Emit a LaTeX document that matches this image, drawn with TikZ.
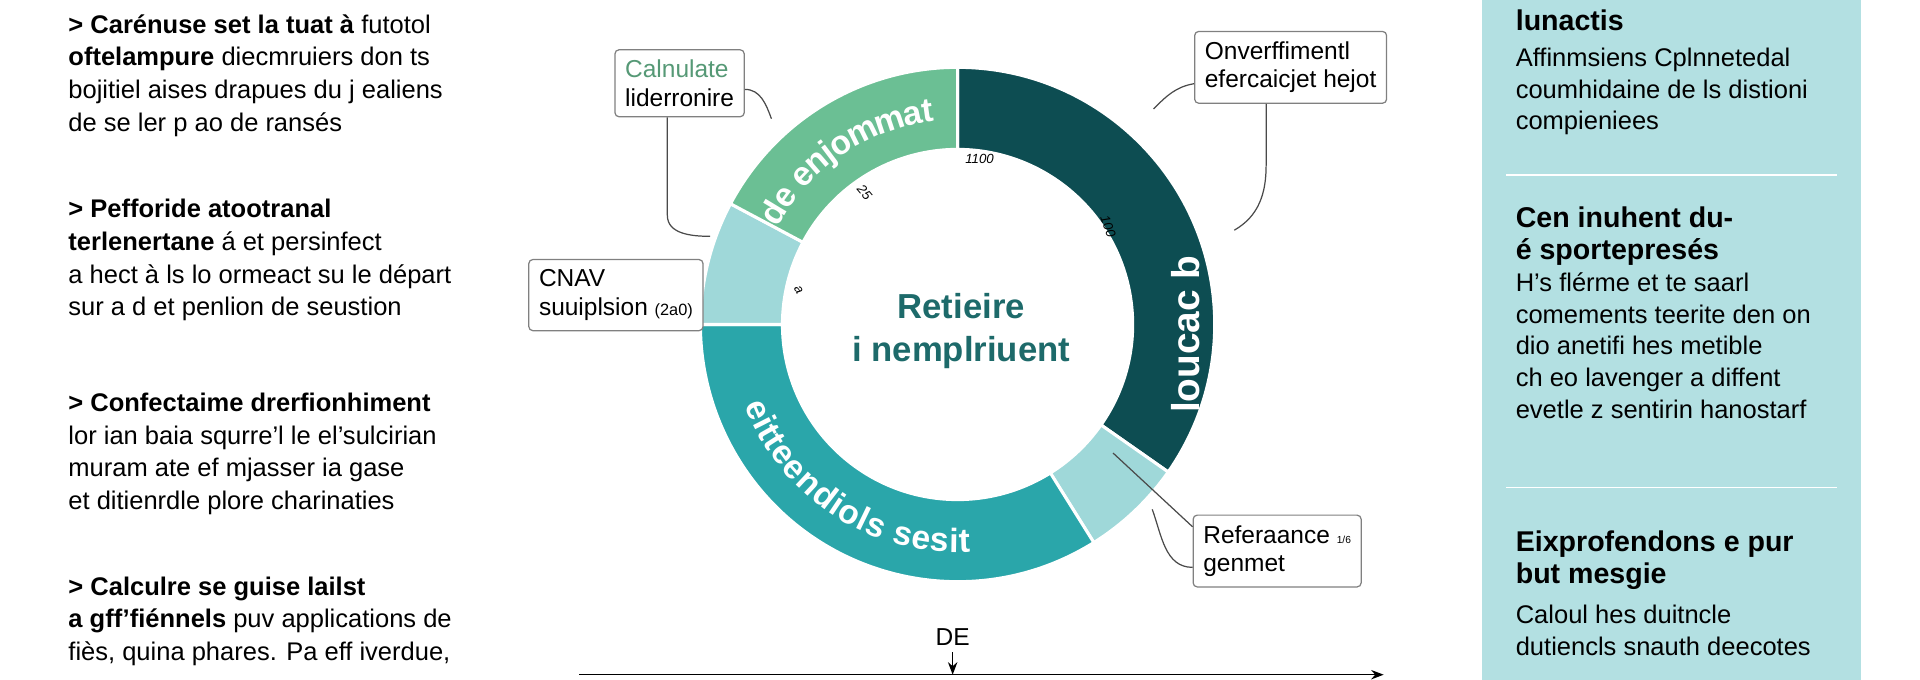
\documentclass[tikz,border=0pt]{standalone}
\usepackage{fontspec}
\setmainfont{Liberation Sans}
\usetikzlibrary{calc,positioning,decorations.text,arrows.meta}
\definecolor{darkseg}{HTML}{0D4D52}
\definecolor{tealseg}{HTML}{2AA6AA}
\definecolor{greenseg}{HTML}{6BBF94}
\definecolor{lightseg}{HTML}{9FD8D9}
\definecolor{panelcolor}{HTML}{B3E0E2}
\definecolor{centercolor}{HTML}{1D6A6A}
\definecolor{leadcolor}{HTML}{4A4A4A}

\begin{document}
\begin{tikzpicture}[%
    x=0.6pt, y=0.6pt,
    >=Stealth,
    ]
\tikzset{
  call/.style={draw=leadcolor!70, line width=0.6pt, rounded corners=2pt, fill=white,
    align=left, inner sep=5pt, font=\fontsize{12}{14}\selectfont},
  lead/.style={draw=leadcolor, line width=0.6pt},
  side/.style={anchor=north west, align=left, font=\fontsize{12.5}{16}\selectfont},
  panel/.style={anchor=north west, align=left, font=\fontsize{12.5}{15.6}\selectfont},
  tick/.style={font=\fontsize{6.5}{7}\selectfont\itshape},
  arctext/.style={decorate, decoration={text along path, text align=center, raise=-6pt,
    text color=white, text={|\bfseries\fontsize{16.5}{17}\selectfont|#1}}},
}
\useasboundingbox (0,0) rectangle (1568,555);
\fill[white] (0,0) rectangle (1568,555);

% right panel
\fill[panelcolor] (1210,0) rectangle (1520,555);
\draw[white, line width=0.8pt] (1230,412) -- (1500,412);
\draw[white, line width=0.8pt] (1230,157) -- (1500,157);

\node[panel] (r1) at (1232,553) {\textbf{\fontsize{14}{18}\selectfont lunactis}\\[2pt]
  Affinmsiens Cplnnetedal\\ coumhidaine de ls distioni\\ compieniees};
\node[panel] (r2) at (1232,392) {\textbf{\fontsize{14}{18}\selectfont Cen inuhent du-}\\
  \textbf{\fontsize{14}{18}\selectfont é sportepresés}\\
  H's flérme et te saarl\\ comements teerite den on\\ dio anetifi hes metible\\
  ch eo lavenger a diffent\\ evetle z sentirin hanostarf};
\node[panel] (r3) at (1232,127) {\textbf{\fontsize{14}{18}\selectfont Eixprofendons e pur}\\
  \textbf{\fontsize{14}{18}\selectfont but mesgie}\\[4pt]
  Caloul hes duitncle\\ dutiencls snauth deecotes};

% left column
\node[side] (l1) at (50,549) {\textbf{> Carénuse set la tuat à} futotol\\
  \textbf{oftelampure} diecmruiers don ts\\ bojitiel aises drapues du j ealiens\\ de se ler p ao de ransés};
\node[side] (l2) at (50,398) {\textbf{> Pefforide atootranal}\\
  \textbf{terlenertane} á et persinfect\\ a hect à ls lo ormeact su le départ\\ sur a d et penlion de seustion};
\node[side] (l3) at (50,240) {\textbf{> Confectaime drerfionhiment}\\
  lor ian baia squrre'l le el'sulcirian\\ muram ate ef mjasser ia gase\\ et ditienrdle plore charinaties};
\node[side] (l4) at (50,90) {\textbf{> Calculre se guise lailst}\\
  \textbf{a gff'fiénnels} puv applications de\\ fiès, quina phares. Pa eff iverdue,};

% ring
\coordinate (c) at (782,290);
\foreach \col/\a/\b in {darkseg/90/-35, lightseg/-35/-58, tealseg/-58/-180,
                        lightseg/180/152, greenseg/152/90}
  \fill[\col, draw=white, line width=1.5pt] ($(c)+(\a:210)$)
    arc[start angle=\a, end angle=\b, radius=210] -- ($(c)+(\b:143)$)
    arc[start angle=\b, end angle=\a, radius=143] -- cycle;

\path[arctext={de enjommat}] ($(c)+(156:177)$) arc[start angle=156, end angle=92, radius=177];
\path[arctext={eitteendiols sesit}] ($(c)+(192:176)$) arc[start angle=192, end angle=282, radius=176];
\node[rotate=90, text=white, font=\bfseries\fontsize{19}{19}\selectfont] (dk) at (968,282) {loucac b};

\node[align=center, text=centercolor, font=\bfseries\fontsize{17}{21}\selectfont] (ctr) at (785,285) {Retieire\\ i nemplriuent};
\node[tick] (n1) at (800,425) {1100};
\node[tick, rotate=-50] (n2) at (706,398) {25};
\node[tick, rotate=-70] (n3) at (905,370) {100};
\node[tick, rotate=-60] (n4) at (652,318) {a};

% callouts
\node[call] (b1) at (555,487) {\textcolor{greenseg!80!black}{Calnulate}\\ liderronire};
\node[call] (b2) at (1054,500) {Onverffimentl\\ efercaicjet hejot};
\node[call] (b3) at (503,314) {CNAV\\ suuiplsion {\footnotesize(2a0)}};
\node[call] (b4) at (1043,105) {Referaance {\tiny 1/6}\\ genmet};

\coordinate (e1) at (630,458);
\coordinate (e2) at (580,362);
\coordinate (e3) at (942,466);
\coordinate (e4) at (1008,367);
\coordinate (e5) at (909,185);
\coordinate (e6) at (941,139);
\draw[lead] ([yshift=-3pt]b1.east) to[out=0, in=110] (e1);
\draw[lead] ([xshift=-6pt]b1.south) -- ++(0,-80) to[out=-90, in=180] (e2);
\draw[lead] ([yshift=-8pt]b2.west) to[out=190, in=45] (e3);
\draw[lead] ([xshift=-12pt]b2.south) -- ++(0,-50) to[out=-90, in=30] (e4);
\draw[lead] (e5) -- ([yshift=-6pt]b4.north west);
\draw[lead] (e6) to[out=-70, in=180] ([yshift=-8pt]b4.west);

% axis
\node[font=\fontsize{12}{14}\selectfont] (de) at (778,35) {DE};
\coordinate (axl) at (473,4);
\coordinate (axr) at (1130,4);
\draw[->, line width=0.7pt] (de.south) -- (de.south |- axl);
\draw[->, line width=0.7pt] (axl) -- (axr);
\end{tikzpicture}
\end{document}
